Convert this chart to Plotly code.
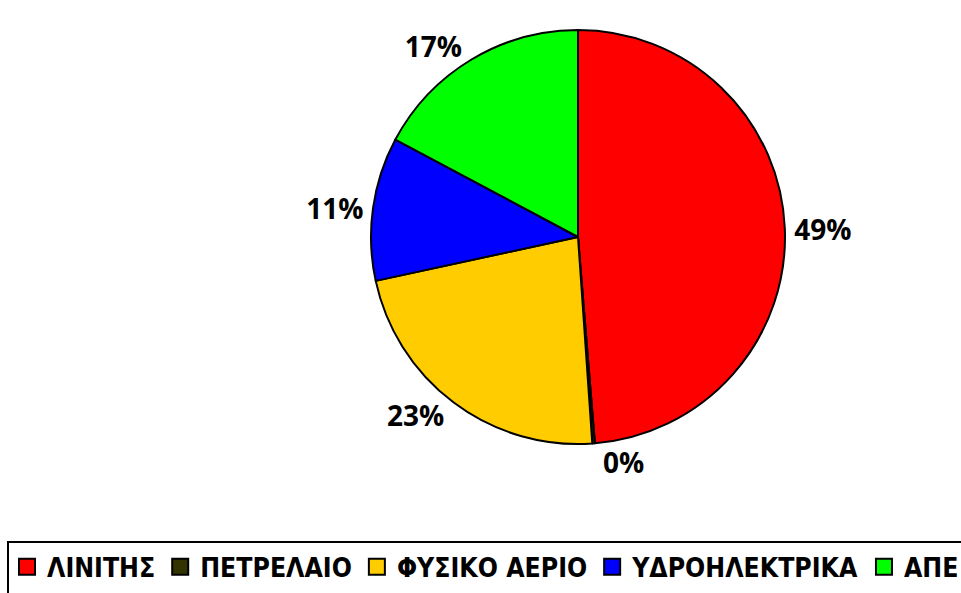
import plotly.graph_objects as go

labels = ["ΛΙΝΙΤΗΣ", "ΠΕΤΡΕΛΑΙΟ", "ΦΥΣΙΚΟ ΑΕΡΙΟ", "ΥΔΡΟΗΛΕΚΤΡΙΚΑ", "ΑΠΕ"]
values = [48.7, 0.2, 22.7, 11.2, 17.2]
colors = ["#FF0000", "#333300", "#FFCC00", "#0000FF", "#00FF00"]

W, H = 961, 593
cx, cy, rd = 578, 237, 207

fig = go.Figure(go.Pie(
    labels=labels,
    values=values,
    sort=False,
    direction="clockwise",
    rotation=0,
    marker=dict(colors=colors, line=dict(color="black", width=2)),
    textposition="outside",
    texttemplate="%{percent:.0%}",
    textfont=dict(family="Open Sans", size=28, color="black", weight="bold"),
    domain=dict(x=[(cx - rd - 60) / W, (cx + rd + 60) / W],
                y=[1 - (cy + rd) / H, 1 - (cy - rd) / H]),
    hoverinfo="label+percent",
    showlegend=False,
))

# legend entries with larger square swatches
for lab, col in zip(labels, colors):
    fig.add_trace(go.Scatter(
        x=[None], y=[None], mode="markers", name=lab,
        marker=dict(symbol="square", size=16, color=col,
                    line=dict(color="black", width=2)),
        showlegend=True, hoverinfo="skip",
    ))

fig.update_layout(
    width=W, height=H,
    margin=dict(l=0, r=0, t=0, b=0, autoexpand=False),
    paper_bgcolor="white",
    plot_bgcolor="white",
    xaxis=dict(visible=False),
    yaxis=dict(visible=False),
    legend=dict(
        orientation="h",
        x=7 / W, xanchor="left",
        y=1 - 567 / H, yanchor="middle",
        font=dict(family="DejaVu Sans Condensed", size=26.4, color="black", weight="bold"),
        itemwidth=30,
        itemsizing="trace",
        bgcolor="rgba(0,0,0,0)",
        borderwidth=0,
        traceorder="normal",
    ),
    shapes=[dict(type="rect", xref="paper", yref="paper",
                 x0=8 / W, x1=1.05, y0=-0.2, y1=1 - 542 / H,
                 line=dict(color="black", width=2), fillcolor="rgba(0,0,0,0)")],
)

fig.write_html("out.html", config={"displayModeBar": False},
               post_script="document.body.style.margin='0';")
